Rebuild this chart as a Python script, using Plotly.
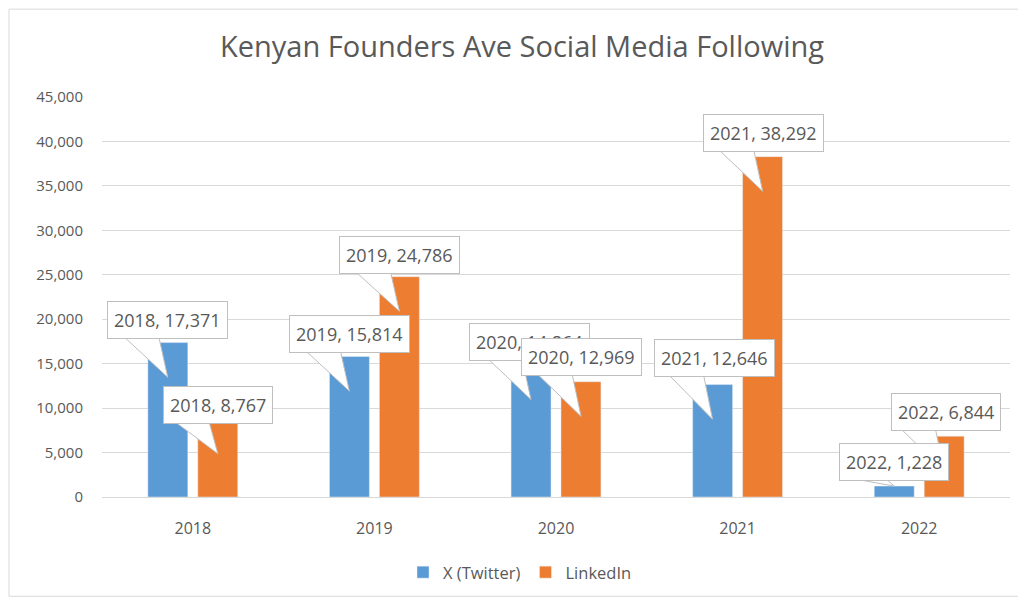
import plotly.graph_objects as go

years = ["2018", "2019", "2020", "2021", "2022"]
twitter = [17371, 15814, 14864, 12646, 1228]
linkedin = [8767, 24786, 12969, 38292, 6844]
series_names = ["X (Twitter)", "LinkedIn"]
y_ticks = [0, 5000, 10000, 15000, 20000, 25000, 30000, 35000, 40000, 45000]
Y_MAX = 45000

# callout box centre offsets (pixels, +y down) relative to the wedge tip
tw_offsets = [(0, -57), (0, -57), (-1, -58), (2, -61), (0, -24)]
li_offsets = [(0, -49), (0, -56), (0, -59), (1, -58), (2, -59)]

BLUE = "#5B9BD5"
ORANGE = "#ED7D31"
GREY_TXT = "#595959"
GRID = "#D9D9D9"
CALLOUT_LINE = "#BFBFBF"
FONT = "Open Sans"

# figure geometry (figure is placed at page offset 8px by the html body margin)
W, H = 1018, 594
L, R, T, B = 94, 16, 89, 102
PW, PH = W - L - R, H - T - B
BOX_H = 36
BAR_SHIFT = 0.138  # category fraction from group centre to each bar centre

def px_to_x(px):
    return (px - L) / PW * len(years) - 0.5

def px_to_y(py):
    return (H - B - py) / PH * Y_MAX

def x_to_px(x):
    return L + (x + 0.5) / len(years) * PW

def y_to_px(y):
    return H - B - y / Y_MAX * PH

def tip(v):
    return v - 3900 if v > 5000 else v

fig = go.Figure()
fig.add_trace(go.Bar(x=years, y=twitter, name=series_names[0], marker_color=BLUE))
fig.add_trace(go.Bar(x=years, y=linkedin, name=series_names[1], marker_color=ORANGE))

annotations = []
wx, wy = [], []
for series, offs, shift in ((twitter, tw_offsets, -BAR_SHIFT), (linkedin, li_offsets, BAR_SHIFT)):
    for i, (yr, v) in enumerate(zip(years, series)):
        ax, ay = offs[i]
        tx, ty = i + shift, tip(v)
        tpx, tpy = x_to_px(tx), y_to_px(ty)
        by = tpy + ay + BOX_H / 2 - 2
        if tpy > by:
            for px, py in ((tpx - 44, by), (tpx, tpy), (tpx - 9, by), (tpx - 44, by)):
                wx.append(px_to_x(px))
                wy.append(px_to_y(py))
            wx.append(None)
            wy.append(None)
        annotations.append(dict(
            x=tx, y=ty, xref="x2", yref="y",
            text=f"{yr}, {v:,}", showarrow=False,
            xshift=ax, yshift=-ay, xanchor="center", yanchor="middle",
            bgcolor="white", bordercolor=CALLOUT_LINE, borderwidth=1, borderpad=6,
            font=dict(family=FONT, size=18, color=GREY_TXT),
        ))

fig.add_trace(go.Scatter(x=wx, y=wy, xaxis="x2", yaxis="y", mode="lines",
                         fill="toself", fillcolor="white",
                         line=dict(color=CALLOUT_LINE, width=1),
                         showlegend=False, hoverinfo="skip"))

fig.update_layout(
    width=W, height=H,
    margin=dict(l=L, r=R, t=T, b=B),
    paper_bgcolor="white", plot_bgcolor="white",
    barmode="group", bargap=0.45, bargroupgap=0.2,
    title=dict(text="Kenyan Founders Ave Social Media Following",
               x=514 / W, xref="container", xanchor="center",
               y=1 - 39 / H, yref="container", yanchor="middle",
               font=dict(family=FONT, size=29, color=GREY_TXT)),
    font=dict(family=FONT, color=GREY_TXT),
    xaxis=dict(type="category", showgrid=False, showline=True, linecolor=GRID,
               ticks="", ticklabelstandoff=17, tickfont=dict(size=16, color=GREY_TXT)),
    xaxis2=dict(overlaying="x", range=[-0.5, len(years) - 0.5], visible=False),
    yaxis=dict(range=[0, Y_MAX], tickvals=y_ticks, tickformat=",",
               showgrid=True, gridcolor=GRID, zeroline=False, showline=False,
               ticks="", ticklabelstandoff=18, tickfont=dict(size=15, color=GREY_TXT)),
    legend=dict(orientation="h", x=(512 - L) / PW, xanchor="center",
                y=(H - B - 568) / PH, yanchor="middle",
                font=dict(size=16.5, color=GREY_TXT), itemwidth=30),
    annotations=annotations,
    shapes=[dict(type="rect", xref="paper", yref="paper",
                 x0=(1 - L) / PW, x1=(1013 - L) / PW,
                 y0=(H - B - 592) / PH, y1=(H - B - 0.5) / PH,
                 line=dict(color=GRID, width=1), fillcolor="rgba(0,0,0,0)",
                 layer="below")],
)

fig.write_html("out.html")
